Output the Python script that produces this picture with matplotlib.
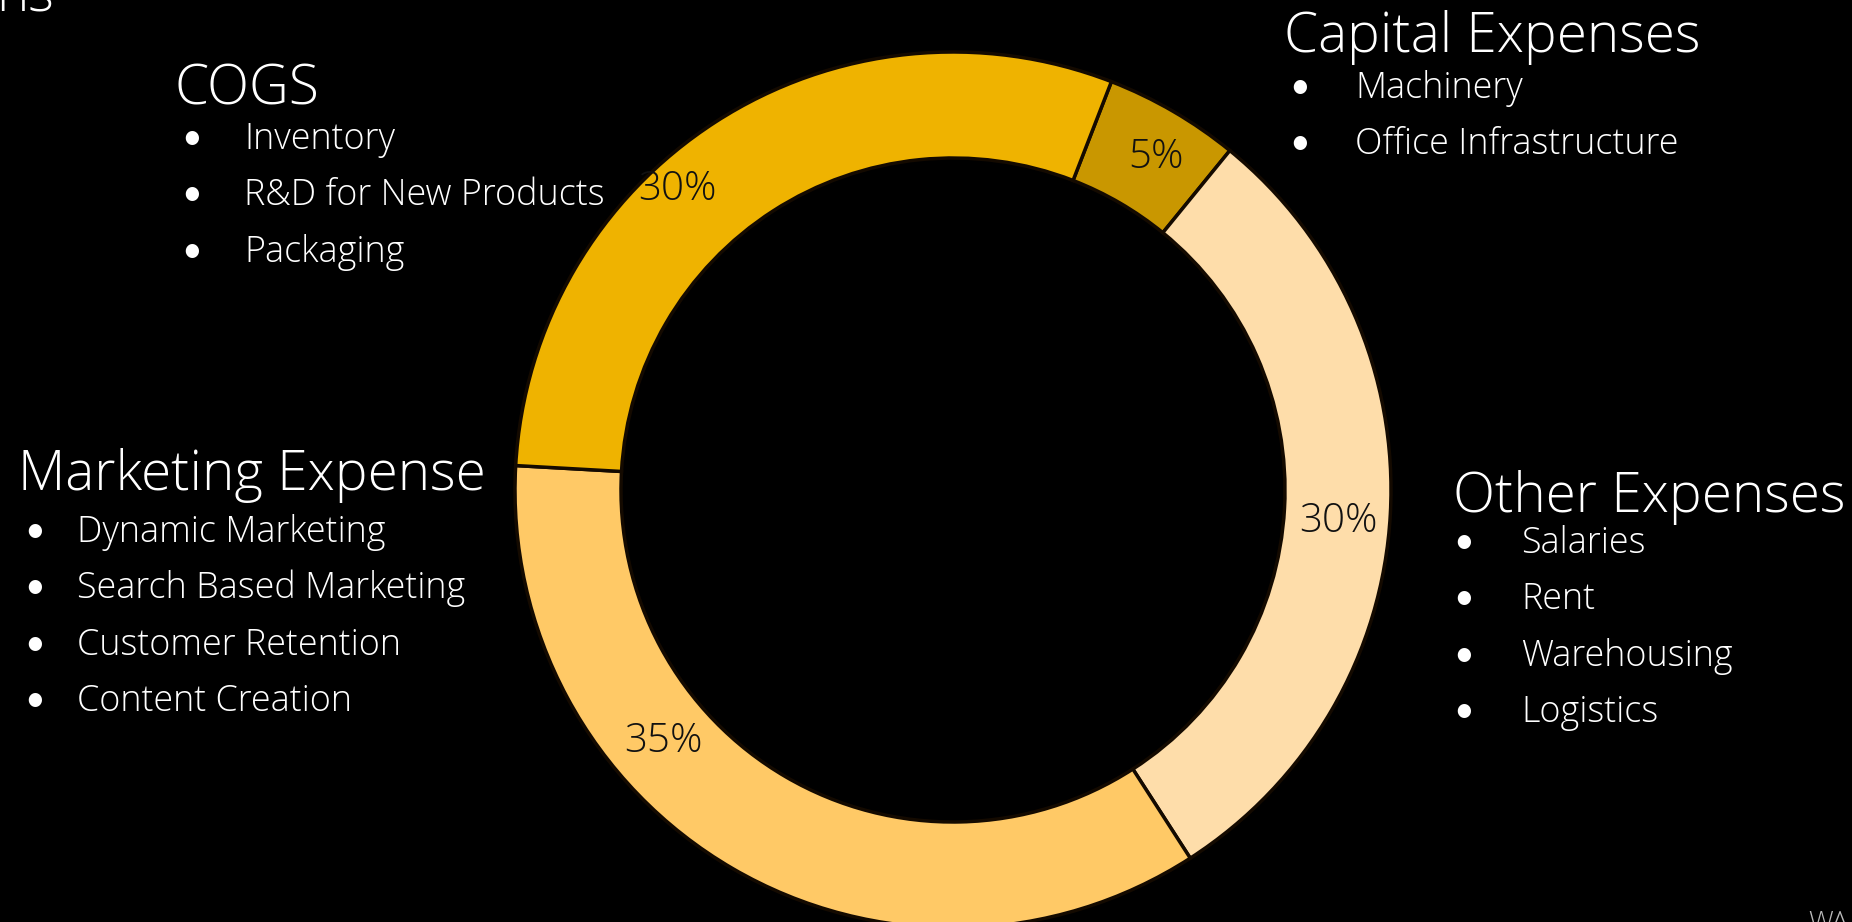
import matplotlib
matplotlib.use("Agg")
import matplotlib.pyplot as plt

# ---------------- data ----------------
categories = ["Capital Expenses", "Other Expenses", "Marketing Expense", "COGS"]
shares = [5, 30, 35, 30]
pct_labels = ["5%", "30%", "35%", "30%"]
seg_colors = ["#C99700", "#FEDDAA", "#FFC966", "#EFB300"]

items_cogs = ["Inventory", "R&D for New Products", "Packaging"]
items_capital = ["Machinery", "Office Infrastructure"]
items_marketing = ["Dynamic Marketing", "Search Based Marketing", "Customer Retention", "Content Creation"]
items_other = ["Salaries", "Rent", "Warehousing", "Logistics"]

# ---------------- layout ----------------
W, H = 1852, 922
FONT = "Open Sans"
plt.rcParams["font.family"] = [FONT, "DejaVu Sans"]

fig = plt.figure(figsize=(W / 100, H / 100), dpi=100, facecolor="black")
ax = fig.add_axes([0, 0, 1, 1])
ax.set_facecolor("black")

cx, cy_down, R = 953, 490, 438
ring_w = 106

wedges, _ = ax.pie(
    shares,
    colors=seg_colors,
    startangle=68.8,
    counterclock=False,
    radius=R,
    center=(cx, H - cy_down),
    wedgeprops=dict(width=ring_w, edgecolor="#140a00", linewidth=2.5),
)
ax.set_xlim(0, W)
ax.set_ylim(0, H)
ax.set_aspect("equal")
ax.axis("off")


def T(x, yd, s, **kw):
    ax.text(x, H - yd, s, **kw)


TITLE_FS = 39.5
ITEM_FS = 25.8
PCT_FS = 29
WEIGHT = "light"

# percentage labels (positions tuned to reference)
pct_pos = [(1156, 157), (1338, 522), (663, 742), (677, 189)]
for lab, (x, y) in zip(pct_labels, pct_pos):
    T(x, y, lab, ha="center", va="center", fontsize=PCT_FS, color="#111111",
      fontweight=WEIGHT)

# group blocks: title, (title x, baseline), bullet x, text x, first item baseline
blocks = [
    ("COGS", (175, 105), 192, 244, 149, items_cogs),
    ("Capital Expenses", (1284, 52), 1300, 1355, 98, items_capital),
    ("Marketing Expense", (18, 490), 35, 77, 542, items_marketing),
    ("Other Expenses", (1453, 512), 1464, 1521, 553, items_other),
]
STEP = 56.3
for title, (tx, ty), bx, ix, y0, items in blocks:
    T(tx, ty, title, ha="left", va="baseline", fontsize=TITLE_FS, color="white",
      fontweight=WEIGHT)
    for i, it in enumerate(items):
        yb = y0 + i * STEP
        T(bx, yb, "\u2022", ha="center", va="baseline", fontsize=ITEM_FS, color="white",
          family=["Lato", "DejaVu Sans"])
        T(ix, yb, it, ha="left", va="baseline", fontsize=ITEM_FS, color="white",
          fontweight=WEIGHT)

# cut-off fragments at the edges (present in the reference)
T(54, 12, "ns", ha="right", va="baseline", fontsize=TITLE_FS, color="white", fontweight=WEIGHT)
T(1808, 910, "WA", ha="left", va="top", fontsize=20, color="#bbbbbb", fontweight=WEIGHT)

fig.savefig("out.png", dpi=100, facecolor="black")
